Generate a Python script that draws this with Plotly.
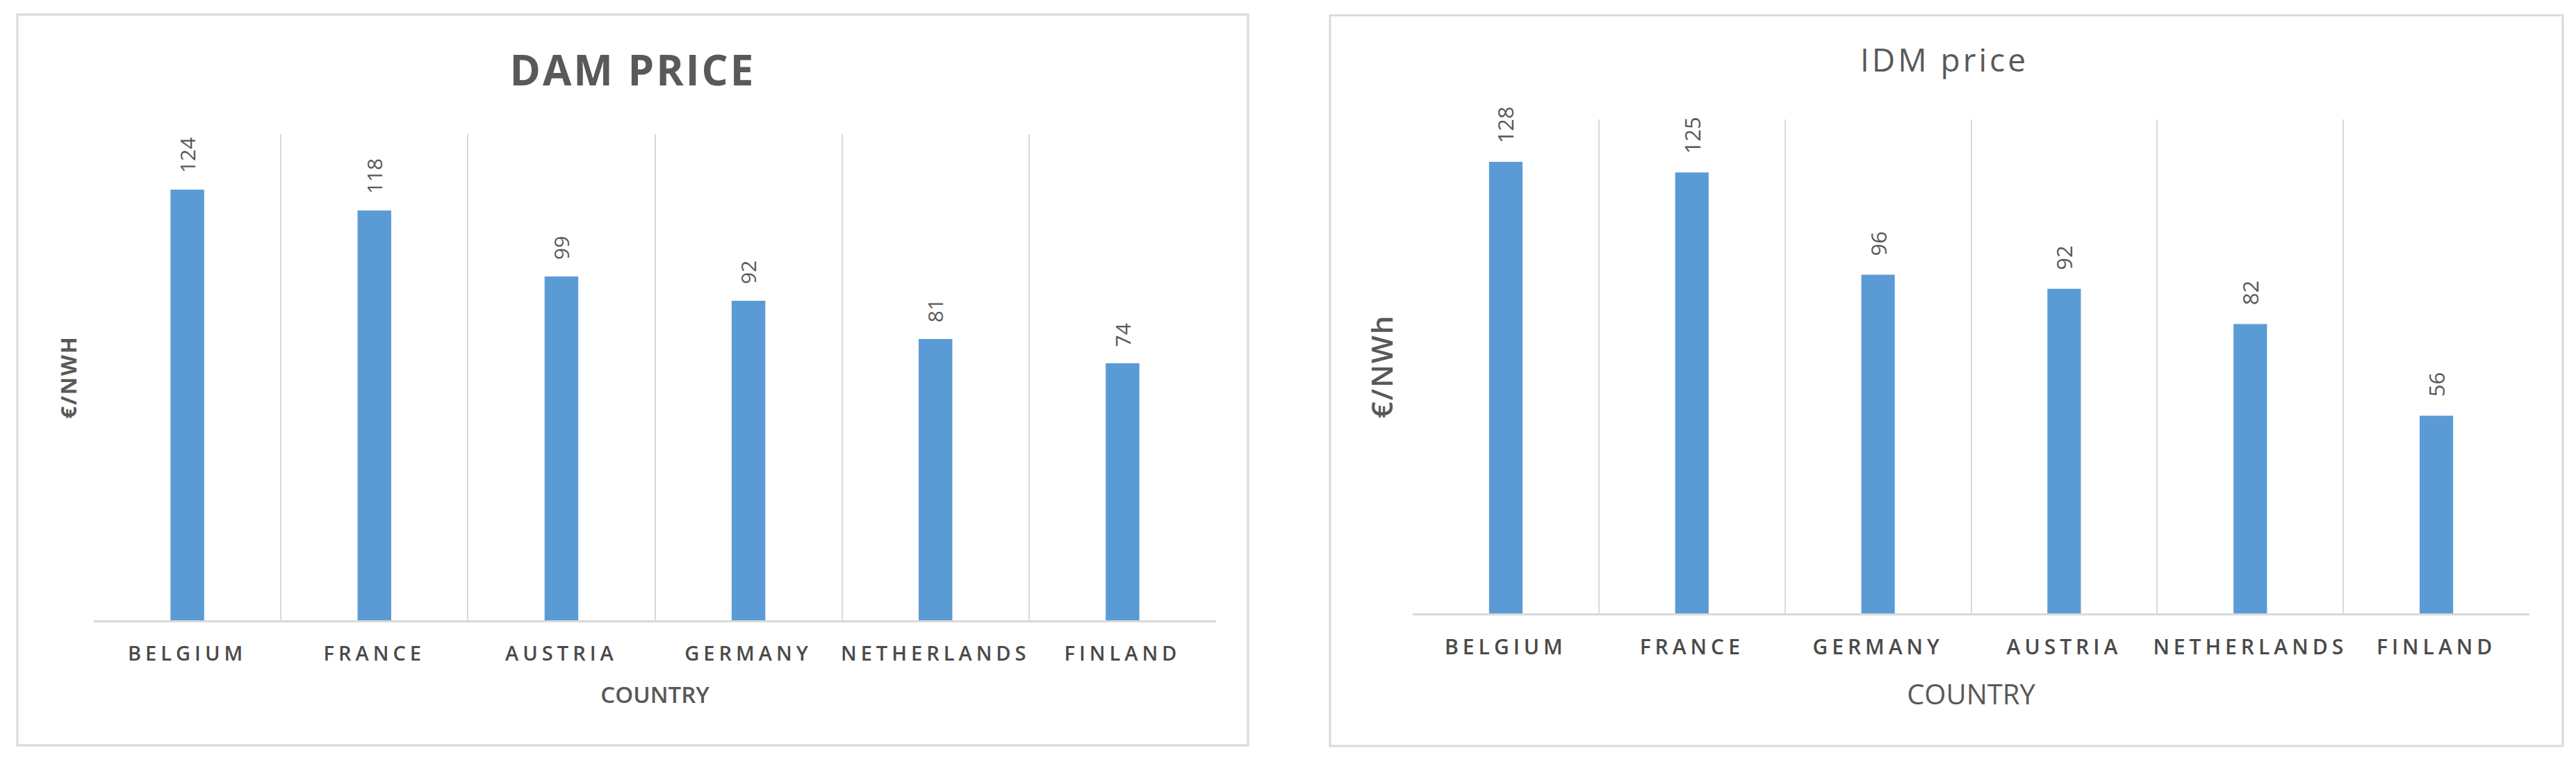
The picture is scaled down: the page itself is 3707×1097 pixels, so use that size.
import plotly.graph_objects as go

# ---- data ----
dam_countries = ["BELGIUM", "FRANCE", "AUSTRIA", "GERMANY", "NETHERLANDS", "FINLAND"]
dam_prices = [124, 118, 99, 92, 81, 74]
idm_countries = ["BELGIUM", "FRANCE", "GERMANY", "AUSTRIA", "NETHERLANDS", "FINLAND"]
idm_prices = [128, 125, 96, 92, 82, 56]

W, H = 3707, 1097
BAR = "#5B9BD5"
GRID = "#d9d9d9"
TXT = "#595959"
TICK = "#4a4a4a"
FONT = "Open Sans"

def px(x):
    return x / W

def py(y):
    return 1 - y / H

fig = go.Figure()
fig.add_trace(go.Bar(x=dam_countries, y=dam_prices, marker=dict(color=BAR, line=dict(width=0)),
                     xaxis="x", yaxis="y", showlegend=False, hoverinfo="x+y"))
fig.add_trace(go.Bar(x=idm_countries, y=idm_prices, marker=dict(color=BAR, line=dict(width=0)),
                     xaxis="x2", yaxis="y2", showlegend=False, hoverinfo="x+y"))

annotations = []
for c, v in zip(dam_countries, dam_prices):
    annotations.append(dict(x=c, y=v, xref="x", yref="y", text=str(v), showarrow=False,
                            textangle=-90, yanchor="bottom", xanchor="center", yshift=22,
                            font=dict(family=FONT, size=30, color=TXT)))
for c, v in zip(idm_countries, idm_prices):
    annotations.append(dict(x=c, y=v, xref="x2", yref="y2", text=str(v), showarrow=False,
                            textangle=-90, yanchor="bottom", xanchor="center", yshift=25,
                            font=dict(family=FONT, size=31, color=TXT)))
annotations.append(dict(x=px(910), y=py(100), xref="paper", yref="paper", text="DAM PRICE",
                        showarrow=False, xanchor="center", yanchor="middle",
                        font=dict(family=FONT, size=60, color=TXT, weight=700)))
annotations.append(dict(x=px(2798), y=py(85), xref="paper", yref="paper", text="IDM price",
                        showarrow=False, xanchor="center", yanchor="middle",
                        font=dict(family=FONT, size=46, color=TXT)))

shapes = [
    dict(type="rect", xref="paper", yref="paper", x0=px(25), x1=px(1796), y0=py(1073), y1=py(21),
         line=dict(color=GRID, width=3), fillcolor="rgba(0,0,0,0)", layer="below"),
    dict(type="rect", xref="paper", yref="paper", x0=px(1914), x1=px(3688), y0=py(1074), y1=py(22),
         line=dict(color=GRID, width=3), fillcolor="rgba(0,0,0,0)", layer="below"),
]

def xax(domain, tsize, title, title_size, title_weight, title_standoff):
    return dict(domain=domain, type="category", tickson="boundaries", showgrid=True,
                gridcolor=GRID, gridwidth=2, showline=True, linecolor=GRID, linewidth=3,
                ticks="", ticklabelstandoff=20,
                tickfont=dict(family=FONT, size=tsize, color=TICK, weight=600),
                title=dict(text=title, standoff=title_standoff,
                           font=dict(family=FONT, size=title_size, color=TXT, weight=title_weight)),
                fixedrange=True)

def yax(domain, anchor, title, title_size, weight):
    return dict(domain=domain, anchor=anchor, range=[0, 140], showgrid=False, zeroline=False,
                showticklabels=False, ticks="", showline=False,
                title=dict(text=title, standoff=14,
                           font=dict(family=FONT, size=title_size, color=TXT, weight=weight)),
                fixedrange=True)

fig.update_layout(
    width=W, height=H,
    margin=dict(l=0, r=0, t=0, b=0),
    paper_bgcolor="white", plot_bgcolor="white",
    bargap=0.82,
    xaxis=xax([px(135), px(1750)], 29, "COUNTRY", 33, 600, 32) | dict(anchor="y"),
    yaxis=yax([py(893), py(193)], "x", "€/NWH", 31, 700),
    xaxis2=xax([px(2033), px(3640)], 30, "COUNTRY", 40, 400, 36) | dict(anchor="y2"),
    yaxis2=yax([py(883), py(172)], "x2", "€/NWh", 42, 600),
    annotations=annotations,
    shapes=shapes,
)

post = """
document.body.style.margin = '0';
document.body.style.padding = '0';
var gd = document.getElementById('{plot_id}');
gd.querySelectorAll('.xtick text, .x2tick text').forEach(function(t){ t.style.letterSpacing = '6px'; });
gd.querySelectorAll('.annotation-text').forEach(function(t){
  var s = t.textContent;
  if (s === 'DAM PRICE') { t.style.letterSpacing = '3px'; }
  if (s === 'IDM price') { t.style.letterSpacing = '4px'; }
});
gd.querySelectorAll('.ytitle, .y2title').forEach(function(t){ t.style.letterSpacing = '2px'; });
"""
fig.write_html("out.html", post_script=post, config={"displayModeBar": False})
